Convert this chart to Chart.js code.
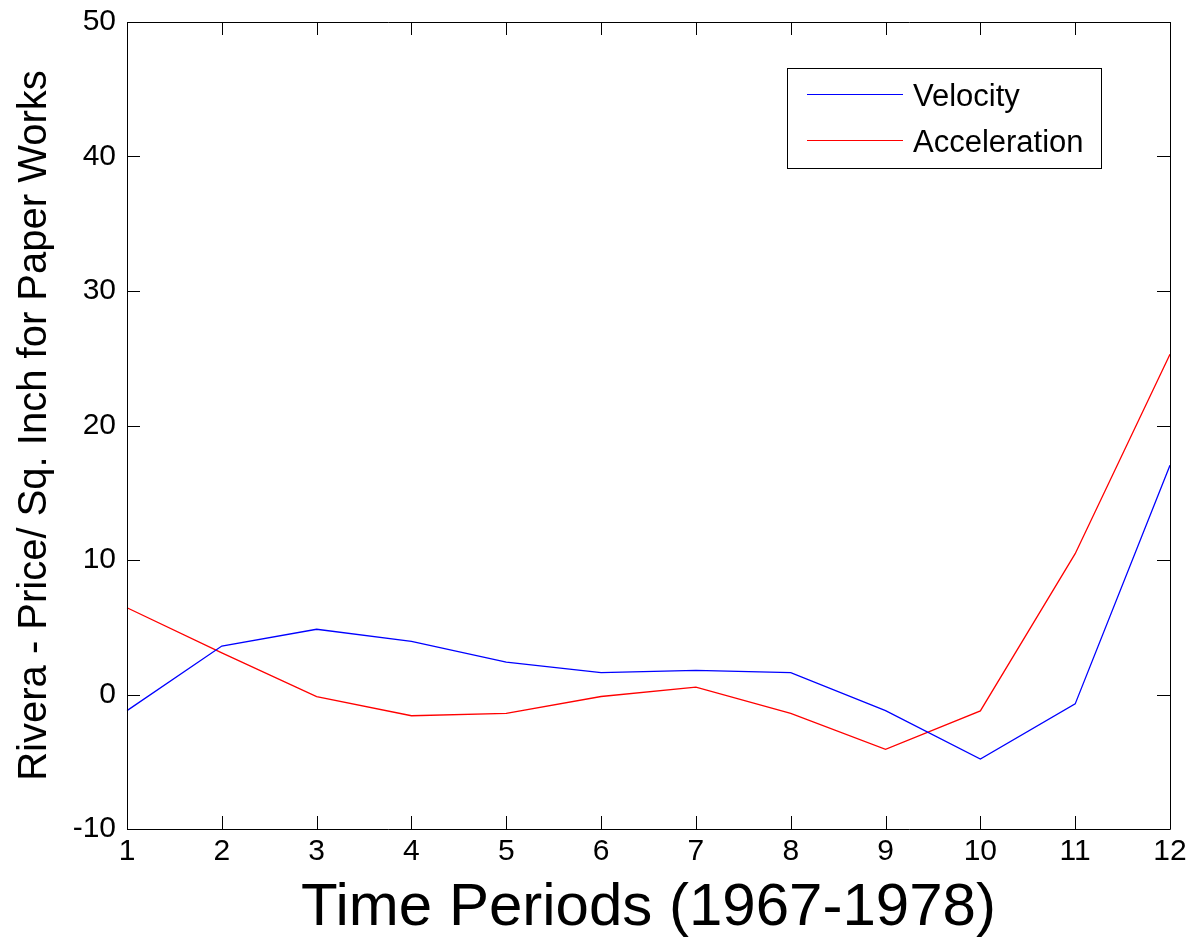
<!DOCTYPE html>
<html>
<head>
<meta charset="utf-8">
<script src="https://cdn.jsdelivr.net/npm/chart.js@4"></script>
<style>
  body { margin: 0; background: #fff; }
  #wrap { width: 1194px; height: 945px; }
</style>
</head>
<body>
<div id="wrap"><canvas id="myChart" width="1194" height="945"></canvas></div>
<script>
const periods = ['1', '2', '3', '4', '5', '6', '7', '8', '9', '10', '11', '12'];
const velocity = [-1.2, 3.6, 4.85, 3.95, 2.4, 1.63, 1.8, 1.63, -1.2, -4.8, -0.7, 17.05];
const acceleration = [6.45, 3.1, -0.15, -1.58, -1.4, -0.15, 0.55, -1.4, -4.07, -1.22, 10.47, 25.3];
const yTicks = [-10, 0, 10, 20, 30, 40, 50];

const fontFamily = '"Liberation Sans", Arial, Helvetica, sans-serif';

// matlab style box, inward ticks and legend
const matlabFrame = {
    id: 'matlabFrame',
    afterDraw(chart) {
        const ctx = chart.ctx;
        const a = chart.chartArea;
        const xs = chart.scales.x;
        const ys = chart.scales.y;
        const tl = 13;
        ctx.save();
        ctx.strokeStyle = '#000';
        ctx.lineWidth = 1;
        ctx.beginPath();
        // ticks on all four sides
        yTicks.forEach(function(v) {
            const py = Math.round(ys.getPixelForValue(v)) + 0.5;
            ctx.moveTo(a.left, py); ctx.lineTo(a.left + tl, py);
            ctx.moveTo(a.right, py); ctx.lineTo(a.right - tl, py);
        });
        periods.forEach(function(p, i) {
            const px = Math.round(xs.getPixelForValue(i)) + 0.5;
            ctx.moveTo(px, a.bottom); ctx.lineTo(px, a.bottom - tl);
            ctx.moveTo(px, a.top); ctx.lineTo(px, a.top + tl);
        });
        ctx.stroke();
        // frame
        ctx.beginPath();
        ctx.rect(Math.round(a.left) + 0.5, Math.round(a.top) + 0.5,
                 Math.round(a.right - a.left), Math.round(a.bottom - a.top));
        ctx.stroke();

        // legend
        const lx = 787, ly = 68, lw = 314, lh = 100;
        ctx.fillStyle = '#fff';
        ctx.fillRect(lx, ly, lw, lh);
        ctx.strokeStyle = '#000';
        ctx.strokeRect(lx + 0.5, ly + 0.5, lw, lh);
        const rows = [94, 140];
        ctx.font = '31px ' + fontFamily;
        ctx.textBaseline = 'middle';
        chart.data.datasets.forEach(function(ds, i) {
            ctx.strokeStyle = ds.borderColor;
            ctx.beginPath();
            ctx.moveTo(807, rows[i] + 0.5);
            ctx.lineTo(903, rows[i] + 0.5);
            ctx.stroke();
            ctx.fillStyle = '#000';
            ctx.fillText(ds.label, 913, rows[i] + 3);
        });
        ctx.restore();
    }
};

new Chart(document.getElementById('myChart'), {
    type: 'line',
    data: {
        labels: periods,
        datasets: [
            {
                label: 'Velocity',
                data: velocity,
                borderColor: '#0000ff',
                backgroundColor: '#0000ff',
                borderWidth: 1.3,
                pointRadius: 0,
                tension: 0,
                fill: false
            },
            {
                label: 'Acceleration',
                data: acceleration,
                borderColor: '#ff0000',
                backgroundColor: '#ff0000',
                borderWidth: 1.3,
                pointRadius: 0,
                tension: 0,
                fill: false
            }
        ]
    },
    options: {
        responsive: false,
        animation: false,
        devicePixelRatio: 1,
        layout: { padding: { left: 0, right: 24, top: 22, bottom: 0 } },
        plugins: {
            legend: { display: false },
            tooltip: { enabled: false }
        },
        scales: {
            x: {
                type: 'category',
                offset: false,
                grid: { display: false, drawTicks: false },
                border: { display: false },
                ticks: {
                    color: '#000',
                    padding: 5,
                    maxRotation: 0,
                    autoSkip: false,
                    font: { family: fontFamily, size: 30 }
                },
                title: {
                    display: true,
                    text: 'Time Periods (1967-1978)',
                    color: '#000',
                    font: { family: fontFamily, size: 60 },
                    padding: { top: 0, bottom: 1 }
                },
                afterFit(scale) {
                    scale.height = 116;
                    scale.paddingLeft = 0;
                    scale.paddingRight = 0;
                }
            },
            y: {
                min: -10,
                max: 50,
                grid: { display: false, drawTicks: false },
                border: { display: false },
                ticks: {
                    stepSize: 10,
                    color: '#000',
                    padding: 11,
                    font: { family: fontFamily, size: 30 }
                },
                title: {
                    display: true,
                    text: 'Rivera - Price/ Sq. Inch for Paper Works',
                    color: '#000',
                    font: { family: fontFamily, size: 40 },
                    padding: { top: 11, bottom: 0 }
                },
                afterFit(scale) {
                    scale.width = 127;
                    scale.paddingTop = 0;
                    scale.paddingBottom = 0;
                }
            }
        }
    },
    plugins: [matlabFrame]
});
</script>
</body>
</html>
